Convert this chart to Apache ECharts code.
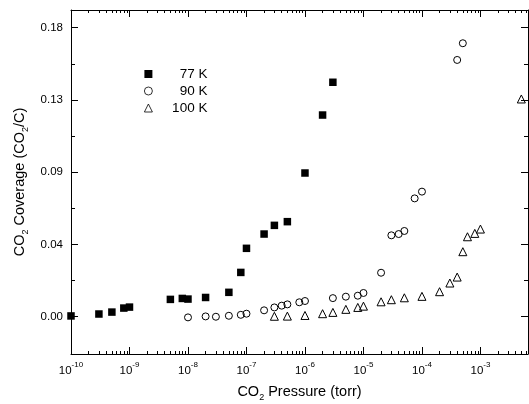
<!DOCTYPE html>
<html>
<head>
<meta charset="utf-8">
<script src="https://cdn.jsdelivr.net/npm/echarts@6/dist/echarts.min.js"></script>
<style>
  html, body { margin: 0; padding: 0; background: #fff; }
  #chart { width: 529px; height: 404px; }
</style>
</head>
<body>
<div id="chart"></div>
<script>
// CO2 uptake isotherms: coverage vs. pressure at three temperatures
const pressure77 = [1e-10, 3e-10, 5e-10, 8e-10, 1e-9, 5e-9, 8e-9, 1e-8, 2e-8, 5e-8, 8e-8, 1e-7, 2e-7, 3e-7, 5e-7, 1e-6, 2e-6, 3e-6];
const coverage77 = [0.0005, 0.0017, 0.0029, 0.0054, 0.0060, 0.0108, 0.0114, 0.0110, 0.0120, 0.0152, 0.0276, 0.0426, 0.0515, 0.0569, 0.0592, 0.0895, 0.1256, 0.1460];

const pressure90 = [1e-8, 2e-8, 3e-8, 5e-8, 8e-8, 1e-7, 2e-7, 3e-7, 4e-7, 5e-7, 8e-7, 1e-6, 3e-6, 5e-6, 8e-6, 1e-5, 2e-5, 3e-5, 4e-5, 5e-5, 7.5e-5, 1e-4, 4e-4, 5e-4];
const coverage90 = [-0.0004, 0.0002, 0.0000, 0.0006, 0.0012, 0.0019, 0.0040, 0.0058, 0.0069, 0.0077, 0.0090, 0.0098, 0.0116, 0.0125, 0.0131, 0.0148, 0.0274, 0.0507, 0.0515, 0.0534, 0.0737, 0.0779, 0.1599, 0.1703];

const pressure100 = [3e-7, 5e-7, 1e-6, 2e-6, 3e-6, 5e-6, 8e-6, 1e-5, 2e-5, 3e-5, 5e-5, 1e-4, 2e-4, 3e-4, 4e-4, 5e-4, 6e-4, 8e-4, 1e-3, 5e-3];
const coverage100 = [0.0003, 0.0004, 0.0008, 0.0019, 0.0027, 0.0046, 0.0058, 0.0066, 0.0093, 0.0106, 0.0118, 0.0127, 0.0156, 0.0210, 0.0247, 0.0405, 0.0498, 0.0519, 0.0546, 0.1356];

const seriesNames = ['77 K', '90 K', '100 K'];

// axis ranges and ticks
const xMin = 1e-10;
const xMax = 6.5e-3;
const yMin = -0.0232;
const yMax = 0.191;
const yTickValues = [0, 0.045, 0.09, 0.135, 0.18];
const yTickLabels = ['0.00', '0.04', '0.09', '0.13', '0.18'];
const yMinorValues = [0.0225, 0.0675, 0.1125, 0.1575];
const xMajorExp = [-10, -9, -8, -7, -6, -5, -4, -3];

// minor ticks of the log axis (2..9 within each decade), expressed as exponents
const xMinorExp = [];
for (let d = -10; d <= -3; d++) {
  for (let k = 2; k <= 9; k++) {
    const e = d + Math.log10(k);
    if (e < Math.log10(xMax)) xMinorExp.push(e);
  }
}

const FONT = 'Liberation Sans, Arial, sans-serif';
const BLACK = '#000';

function pairs(xs, ys) { return xs.map((x, i) => [x, ys[i]]); }

function decadeLabel(v) {
  const e = Math.log10(v);
  const r = Math.round(e);
  if (Math.abs(e - r) > 1e-6) return '';
  return '{b|10}{s|' + r + '}';
}

function yLabel(v) {
  for (let i = 0; i < yTickValues.length; i++) {
    if (Math.abs(yTickValues[i] - v) < 1e-9) return yTickLabels[i];
  }
  return '';
}

const lineStyle = () => ({ color: BLACK, width: 1 });

const titleRich = {
  n: { fontFamily: FONT, fontSize: 14.5, color: BLACK, lineHeight: 20, verticalAlign: 'middle' },
  s: { fontFamily: FONT, fontSize: 9, color: BLACK, lineHeight: 20, verticalAlign: 'bottom' }
};

// data-bearing log axis: line, decade labels and title
const dataLogAxis = {
  type: 'log', logBase: 10, position: 'bottom', min: xMin, max: xMax, interval: 1,
  axisLine: { show: true, onZero: false, lineStyle: lineStyle() },
  axisTick: { show: false },
  axisLabel: {
    show: true, margin: 7, formatter: decadeLabel, showMaxLabel: false,
    rich: {
      b: { fontFamily: FONT, fontSize: 11.5, color: BLACK, lineHeight: 16, verticalAlign: 'bottom' },
      s: { fontFamily: FONT, fontSize: 8, color: BLACK, lineHeight: 16, verticalAlign: 'top' }
    }
  },
  splitLine: { show: false },
  name: '{n|CO}{s|2}{n| Pressure (torr)}', nameLocation: 'middle', nameGap: 28,
  nameTextStyle: { rich: titleRich }
};

// tick-only axes measured in decades
const tickXAxis = (pos, values, len, showLine) => ({
  type: 'value', position: pos, min: -10, max: Math.log10(xMax),
  axisLine: { show: showLine, onZero: false, lineStyle: lineStyle() },
  axisTick: { show: true, inside: true, length: len, lineStyle: lineStyle(), customValues: values },
  axisLabel: { show: false },
  splitLine: { show: false }
});

const tickYAxis = (pos, values, len, showLine) => ({
  type: 'value', position: pos, min: yMin, max: yMax,
  axisLine: { show: showLine, onZero: false, lineStyle: lineStyle() },
  axisTick: { show: true, inside: true, length: len, lineStyle: lineStyle(), customValues: values },
  axisLabel: { show: false },
  splitLine: { show: false }
});

const xAxes = [
  dataLogAxis,
  tickXAxis('bottom', xMajorExp, 7, false),
  tickXAxis('bottom', xMinorExp, 3, false),
  tickXAxis('top', xMajorExp, 7, true),
  tickXAxis('top', xMinorExp, 3, false)
];

const yAxes = [
  {
    type: 'value', position: 'left', min: yMin, max: yMax,
    axisLine: { show: true, onZero: false, lineStyle: lineStyle() },
    axisTick: { show: false },
    axisLabel: {
      show: true, margin: 8, customValues: yTickValues, formatter: yLabel,
      fontFamily: FONT, fontSize: 11.5, color: BLACK
    },
    splitLine: { show: false },
    name: '{n|CO}{s|2}{n| Coverage (CO}{s|2}{n|/C)}', nameLocation: 'middle', nameGap: 40,
    nameTextStyle: { rich: titleRich }
  },
  tickYAxis('left', yTickValues, 7, false),
  tickYAxis('left', yMinorValues, 4, false),
  tickYAxis('right', yTickValues, 7, true),
  tickYAxis('right', yMinorValues, 4, false)
];

const chart = echarts.init(document.getElementById('chart'), null, { renderer: 'canvas' });

chart.setOption({
  animation: false,
  backgroundColor: '#fff',
  grid: { left: 71, right: 1, top: 10, bottom: 50, containLabel: false, outerBoundsMode: 'none' },
  xAxis: xAxes,
  yAxis: yAxes,
  legend: {
    orient: 'vertical', left: 139, top: 62,
    itemWidth: 8, itemHeight: 8, itemGap: 3,
    data: seriesNames,
    itemStyle: { borderWidth: 0.8 },
    formatter: name => '{r|' + name + '}',
    textStyle: {
      rich: { r: { fontFamily: FONT, fontSize: 13.5, color: BLACK, width: 50, align: 'right', lineHeight: 16 } }
    },
    selectedMode: false
  },
  series: [
    {
      name: seriesNames[0], type: 'scatter', xAxisIndex: 0, yAxisIndex: 0,
      symbol: 'rect', symbolSize: 7.5,
      itemStyle: { color: BLACK, borderWidth: 0, opacity: 1 },
      data: pairs(pressure77, coverage77)
    },
    {
      name: seriesNames[1], type: 'scatter', xAxisIndex: 0, yAxisIndex: 0,
      symbol: 'circle', symbolSize: 7,
      itemStyle: { color: 'rgba(0,0,0,0)', borderColor: BLACK, borderWidth: 1, opacity: 1 },
      data: pairs(pressure90, coverage90)
    },
    {
      name: seriesNames[2], type: 'scatter', xAxisIndex: 0, yAxisIndex: 0,
      symbol: 'triangle', symbolSize: 8,
      itemStyle: { color: 'rgba(0,0,0,0)', borderColor: BLACK, borderWidth: 1, opacity: 1 },
      data: pairs(pressure100, coverage100)
    }
  ]
});
</script>
</body>
</html>
